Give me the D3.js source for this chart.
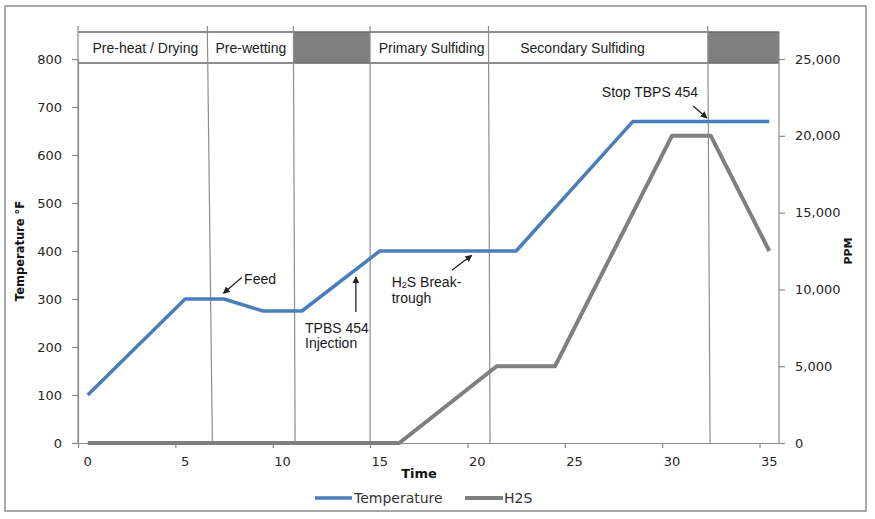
<!DOCTYPE html>
<html>
<head>
<meta charset="utf-8">
<script src="https://cdn.jsdelivr.net/npm/d3@7"></script>
<style>
  html, body { margin: 0; padding: 0; background: #fff; }
  svg { display: block; }
</style>
</head>
<body>
<svg id="chart" width="875" height="519"></svg>
<script>
// ---------- data ----------
const tempTime   = [0, 5, 7, 9, 11, 15, 22, 28, 35];
const tempValue  = [100, 300, 300, 275, 275, 400, 400, 670, 670];
const h2sTime    = [0, 16, 21, 24, 30, 32, 35];
const h2sValue   = [0, 0, 5000, 5000, 20000, 20000, 12500];
const leftTicks  = [0, 100, 200, 300, 400, 500, 600, 700, 800];
const rightTicks = [0, 5000, 10000, 15000, 20000, 25000];
const timeLabels = [0, 5, 10, 15, 20, 25, 30, 35];
// phase separators (time units) at top and bottom of plot
const sepTop     = [6.14, 10.56, 14.5, 20.58, 31.84];
const sepBottom  = [6.40, 10.65, 14.5, 20.66, 31.96];
const phaseNames = ["Pre-heat / Drying", "Pre-wetting", "", "Primary Sulfiding", "Secondary Sulfiding", ""];
const phaseLabelTime = [2.96, 8.38, null, 17.66, 25.41, null];
const phaseShaded = [false, false, true, false, false, true];

// ---------- layout ----------
const svg = d3.select("#chart");
const X0 = 78, X1 = 779, Y0 = 443, Y1 = 59;
const x = d3.scaleLinear().domain([-0.5, 35.5]).range([X0, X1]);
const yL = d3.scaleLinear().domain([0, 800]).range([Y0, Y1]);
const yR = d3.scaleLinear().domain([0, 25000]).range([Y0, Y1]);
const axisCol = "#8a8a8a";
const numFont = "DejaVu Sans, sans-serif";
const annFont = "Liberation Sans, Arial, sans-serif";

// chart border
svg.append("rect").attr("x", 5).attr("y", 6).attr("width", 861).attr("height", 505)
  .attr("fill", "#fff").attr("stroke", "#8c8c8c").attr("stroke-width", 1.5);

// phase band
const bandTop = 32, bandBot = 63;
const edges = [-0.5, ...sepTop, 35.5];
const band = svg.append("g");
phaseNames.forEach((name, i) => {
  const xa = x(edges[i]), xb = x(edges[i + 1]);
  band.append("rect").attr("x", xa).attr("y", bandTop).attr("width", xb - xa).attr("height", bandBot - bandTop)
    .attr("fill", phaseShaded[i] ? "#7f7f7f" : "#fff");
  if (name) {
    band.append("text").attr("x", x(phaseLabelTime[i])).attr("y", 53)
      .attr("text-anchor", "middle").attr("font-family", annFont).attr("font-size", 14)
      .attr("fill", "#222").text(name);
  }
});
band.append("line").attr("x1", X0).attr("x2", X1).attr("y1", bandTop).attr("y2", bandTop)
  .attr("stroke", "#666").attr("stroke-width", 1.5);
band.append("line").attr("x1", X0).attr("x2", X1).attr("y1", bandBot).attr("y2", bandBot)
  .attr("stroke", "#666").attr("stroke-width", 1.5);

// separators
sepTop.forEach((t, i) => {
  svg.append("line").attr("x1", x(t)).attr("x2", x(sepBottom[i])).attr("y1", 26).attr("y2", Y0)
    .attr("stroke", "#8f8f8f").attr("stroke-width", 1.2);
});
// left axis line extending above band
svg.append("line").attr("x1", X0).attr("x2", X0).attr("y1", 26).attr("y2", Y0)
  .attr("stroke", axisCol).attr("stroke-width", 1.2);

// axes
function styleAxis(g) {
  g.selectAll(".domain").attr("stroke", axisCol).attr("stroke-width", 1.2);
  g.selectAll(".tick line").attr("stroke", axisCol).attr("stroke-width", 1.2);
  g.selectAll(".tick text").attr("font-family", numFont).attr("font-size", 13).attr("fill", "#262626");
}
const gl = svg.append("g").attr("transform", `translate(${X0},0)`)
  .call(d3.axisLeft(yL).tickValues(leftTicks).tickSize(6).tickPadding(10).tickSizeOuter(0));
styleAxis(gl);
const gr = svg.append("g").attr("transform", `translate(${X1},0)`)
  .call(d3.axisRight(yR).tickValues(rightTicks).tickSize(6).tickPadding(10).tickSizeOuter(0)
    .tickFormat(d3.format(",")));
styleAxis(gr);
gr.select(".domain").attr("d", `M0,${Y0}V${bandTop}`);
const xTickPos = timeLabels.map(t => t - 0.5);
const gx = svg.append("g").attr("transform", `translate(0,${Y0})`)
  .call(d3.axisBottom(x).tickValues(xTickPos).tickSize(5).tickSizeOuter(0).tickFormat(""));
styleAxis(gx);
svg.append("g").selectAll("text").data(timeLabels).join("text")
  .attr("x", d => x(d)).attr("y", 466).attr("text-anchor", "middle")
  .attr("font-family", numFont).attr("font-size", 13).attr("fill", "#262626").text(d => d);

// axis titles
svg.append("text").attr("transform", "translate(24,251) rotate(-90)").attr("text-anchor", "middle")
  .attr("font-family", numFont).attr("font-weight", "bold").attr("font-size", 11.5).attr("fill", "#111")
  .text("Temperature °F");
svg.append("text").attr("transform", "translate(852,251) rotate(-90)").attr("text-anchor", "middle")
  .attr("font-family", numFont).attr("font-weight", "bold").attr("font-size", 11).attr("fill", "#111")
  .text("PPM");
svg.append("text").attr("x", 419).attr("y", 478).attr("text-anchor", "middle")
  .attr("font-family", numFont).attr("font-weight", "bold").attr("font-size", 13).attr("fill", "#111")
  .text("Time");

// series
const tempCol = "#4a7ebb", h2sCol = "#7f7f7f";
const lineT = d3.line().x((d, i) => x(tempTime[i])).y(d => yL(d));
const lineH = d3.line().x((d, i) => x(h2sTime[i])).y(d => yR(d));
svg.append("path").datum(h2sValue).attr("d", lineH).attr("fill", "none")
  .attr("stroke", h2sCol).attr("stroke-width", 4).attr("stroke-linejoin", "round");
svg.append("path").datum(tempValue).attr("d", lineT).attr("fill", "none")
  .attr("stroke", tempCol).attr("stroke-width", 3.5).attr("stroke-linejoin", "round");

// annotations
const defs = svg.append("defs");
defs.append("marker").attr("id", "ah").attr("viewBox", "0 0 10 10").attr("refX", 9).attr("refY", 5)
  .attr("markerWidth", 7).attr("markerHeight", 7).attr("orient", "auto-start-reverse")
  .attr("markerUnits", "userSpaceOnUse")
  .append("path").attr("d", "M0,0L10,5L0,10Z").attr("fill", "#222");
function arrow(t1, v1, t2, v2) {
  svg.append("line").attr("x1", x(t1)).attr("y1", yL(v1)).attr("x2", x(t2)).attr("y2", yL(v2))
    .attr("stroke", "#222").attr("stroke-width", 1.3).attr("marker-end", "url(#ah)");
}
function label(t, v, lines) {
  const tx = svg.append("text").attr("font-family", annFont).attr("font-size", 14).attr("fill", "#1a1a1a");
  lines.forEach((ln, i) => {
    tx.append("tspan").attr("x", x(t)).attr("y", yL(v) + i * 14.5).text(ln);
  });
  return tx;
}
label(8.03, 331, ["Feed"]);
arrow(7.91, 345, 6.97, 312);
label(11.16, 228.5, ["TPBS 454", "Injection"]);
arrow(13.77, 273, 13.77, 346);
const hb = svg.append("text").attr("font-family", annFont).attr("font-size", 14).attr("fill", "#1a1a1a");
const hb1 = hb.append("tspan").attr("x", x(15.61)).attr("y", yL(324.4));
hb1.append("tspan").text("H");
hb1.append("tspan").attr("font-size", 9).attr("dy", 1).text("2");
hb1.append("tspan").attr("dy", -1).text("S Break-");
hb.append("tspan").attr("x", x(15.61)).attr("y", yL(291)).text("trough");
arrow(18.7, 360, 19.72, 391);
label(26.4, 720, ["Stop TBPS 454"]);
arrow(31.09, 702, 31.8, 677);

// legend
const lg = svg.append("g");
lg.append("line").attr("x1", 315).attr("x2", 352).attr("y1", 498).attr("y2", 498)
  .attr("stroke", tempCol).attr("stroke-width", 3.5);
lg.append("text").attr("x", 354).attr("y", 503).attr("font-family", numFont).attr("font-size", 14)
  .attr("fill", "#333").text("Temperature");
lg.append("line").attr("x1", 465).attr("x2", 503).attr("y1", 498).attr("y2", 498)
  .attr("stroke", h2sCol).attr("stroke-width", 4);
lg.append("text").attr("x", 504).attr("y", 503).attr("font-family", numFont).attr("font-size", 14)
  .attr("fill", "#333").text("H2S");
</script>
</body>
</html>
